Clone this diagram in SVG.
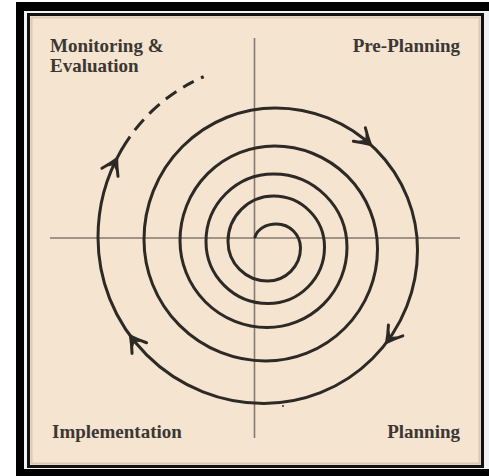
<svg xmlns="http://www.w3.org/2000/svg" xmlns:xlink="http://www.w3.org/1999/xlink" width="489" height="476" viewBox="0 0 489 476">
  <style>
    .lbl { font-family: "Liberation Serif", "Times New Roman", serif; font-weight: bold; font-size: 19px; fill: #3c3733; }
    .axis { stroke: #857a6e; stroke-width: 1.6; fill: none; }
    .sp { stroke: #2d2925; stroke-width: 3; fill: none; stroke-linecap: round; stroke-linejoin: round; }
    .ah { stroke: #2d2925; stroke-width: 3; fill: none; stroke-linecap: round; stroke-linejoin: round; }
  </style>
  <defs>
    <g id="ah">
      <path class="ah" d="M-15,-9 Q-7,-3.5 0,0 Q-7,3.5 -15,9"/>
      <path d="M1.5,0 L-11,-5 L-7,0 L-11,5 Z" fill="#2d2925"/>
    </g>
  </defs>

  <g id="frame">
    <rect width="489" height="476" fill="#ffffff"/>
    <rect x="16" y="2" width="473" height="474" fill="#000000"/>
    <rect x="24" y="11" width="465" height="458" fill="#f2f2f2"/>
    <rect x="28.5" y="14.5" width="454" height="452" fill="#f4e4d0" stroke="#111111" stroke-width="3"/>
    <rect x="31.5" y="17.5" width="448" height="446" fill="none" stroke="#c9b8a3" stroke-width="2" opacity="0.6"/>
  </g>

  <g id="axes">
    <line class="axis" x1="254.5" y1="38" x2="254.5" y2="438"/>
    <line class="axis" x1="50" y1="238" x2="460" y2="238"/>
  </g>

  <g id="connectors">
    <path class="sp" d="M255,237 C257.5,229 266,224 276.5,224
      A24,24 0 0 1 300.5,248
      A33,33 0 0 1 267.5,281
      A39.5,39.5 0 0 1 228,241.5
      A45.5,45.5 0 0 1 273.5,196
      A51,51 0 0 1 324.5,247
      A56.5,56.5 0 0 1 268,303.5
      A62,62 0 0 1 206,241.5
      A67.5,67.5 0 0 1 273.5,174
      A73.5,73.5 0 0 1 347,247.5
      A80,80 0 0 1 267,327.5
      A87,87 0 0 1 180,240.5
      A94.5,94.5 0 0 1 274.5,146
      A103,103 0 0 1 377.5,249
      A112,112 0 0 1 265.5,361
      A121.5,121.5 0 0 1 144,239.5
      A131.5,131.5 0 0 1 275.5,108
      A142,142 0 0 1 417.5,250
      A153.5,153.5 0 0 1 264,403.5
      A166,166 0 0 1 98,237.5
      A175,175 0 0 1 121.4,150"/>
    <path class="sp" style="stroke-linecap:butt" stroke-dasharray="16 8 14 8 14 8 13 8 12 8 3 20" d="M121.4,150 A175,175 0 0 1 207.4,75.2"/>
    <use xlink:href="#ah" transform="translate(370.5,144.5) rotate(42)"/>
    <use xlink:href="#ah" transform="translate(386.6,342.4) rotate(127)"/>
    <use xlink:href="#ah" transform="translate(130.4,336) rotate(-126.4)"/>
    <use xlink:href="#ah" transform="translate(116.7,158.9) rotate(-63.3)"/>
    <circle cx="283" cy="406" r="1" fill="#3c3733"/>
  </g>

  <g id="node-monitoring">
    <text class="lbl" x="50" y="52">Monitoring &amp;</text>
    <text class="lbl" x="50" y="72">Evaluation</text>
  </g>
  <g id="node-preplanning">
    <text class="lbl" x="460" y="52" text-anchor="end">Pre-Planning</text>
  </g>
  <g id="node-implementation">
    <text class="lbl" x="52" y="438">Implementation</text>
  </g>
  <g id="node-planning">
    <text class="lbl" x="460" y="438" text-anchor="end">Planning</text>
  </g>
</svg>
